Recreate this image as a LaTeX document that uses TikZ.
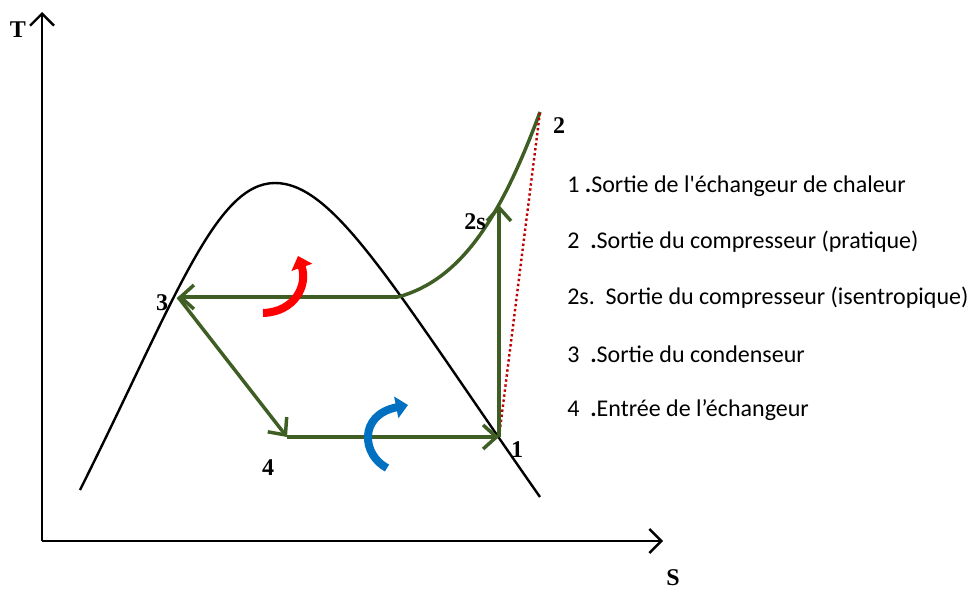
\documentclass[tikz,border=0pt]{standalone}
\usepackage{fontspec}
\setmainfont{Liberation Serif}
\newfontfamily\legendfont{Carlito}
\usetikzlibrary{arrows.meta}
\definecolor{cycgreen}{RGB}{62,94,35}
\definecolor{dotred}{RGB}{192,0,0}
\definecolor{flowblue}{RGB}{0,112,192}
\tikzset{
  pt/.style={font=\fontsize{18}{20}\selectfont\bfseries, inner sep=0pt},
  legend/.style={font=\legendfont\fontsize{18}{21}\selectfont, anchor=west, inner sep=0pt},
  cyc/.style={draw=cycgreen, line width=2.6pt, -{Straight Barb[length=10pt,width=18pt,line width=2.6pt]}},
  axis/.style={line width=1.8pt, -{Straight Barb[length=9pt,width=18pt,line width=1.8pt]}},
  flow/.style={line width=6pt, -{Triangle[length=9pt,width=16pt]}},
}
\begin{document}
\begin{tikzpicture}[x=0.75pt,y=-0.75pt]
    \useasboundingbox (0,0) rectangle (974,589);
    % axes
    \coordinate (o) at (42,541);
    \coordinate (ty) at (42,12);
    \coordinate (sx) at (663,541);
    \draw[axis] (o) -- (ty);
    \draw[axis] (o) -- (sx);
    \node[pt] (T) at (18,30) {T};
    \node[pt] (S) at (673,578) {S};
    % cycle points
    \coordinate (p1) at (499,437);
    \coordinate (p2s) at (499,205);
    \coordinate (p2) at (540,112);
    \coordinate (p3) at (178,297);
    \coordinate (p4) at (287,437);
    \coordinate (pc) at (398,297);
    % saturation dome
    \draw[line width=1.8pt] (80,490) .. controls (175,300) and (215,183) .. (275,183)
      .. controls (335,183) and (395,290) .. (540,497);
    % superheated vapour
    \draw[cycgreen, line width=2.6pt] (pc) .. controls (460,280) and (500,220) .. (p2);
    \draw[dotred, dotted, line width=1.8pt] (p1) -- (p2);
    \draw[cyc] (pc) -- (p3);
    \draw[cyc] (p3) -- (p4);
    \draw[cyc] (p4) -- (p1);
    \draw[cyc] (p1) -- (p2s);
    % flow arrows
    \draw[flow, red] (263,313) .. controls (295,312) and (308,285) .. (298,256);
    \draw[flow, flowblue] (387,468) .. controls (362,455) and (358,415) .. (408,405);
    % point labels
    \node[pt] (n1) at (517,450) {1};
    \node[pt] (n2) at (559,126) {2};
    \node[pt] (n2s) at (475,222) {2s};
    \node[pt] (n3) at (162,303) {3};
    \node[pt] (n4) at (268,468) {4};
    % legend
    \node[legend] (l1) at (567,186) {1 \textbf{.}Sortie de l\textquotesingle échangeur de chaleur};
    \node[legend] (l2) at (567,242) {2\ \ \textbf{.}Sortie du compresseur (pratique)};
    \node[legend] (l2s) at (567,298) {2s.\ \ Sortie du compresseur (isentropique)};
    \node[legend] (l3) at (567,354) {3\ \ \textbf{.}Sortie du condenseur};
    \node[legend] (l4) at (567,410) {4\ \ \textbf{.}Entrée de l’échangeur};
\end{tikzpicture}
\end{document}
